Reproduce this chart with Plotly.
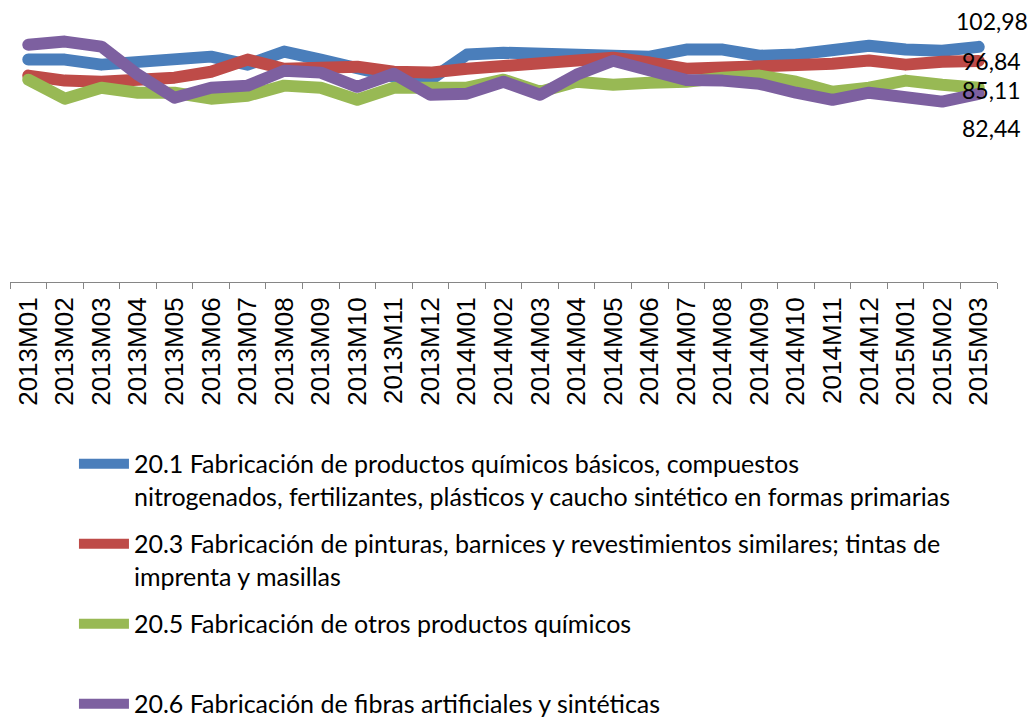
import plotly.graph_objects as go

months = ["2013M01", "2013M02", "2013M03", "2013M04", "2013M05", "2013M06", "2013M07",
          "2013M08", "2013M09", "2013M10", "2013M11", "2013M12", "2014M01", "2014M02",
          "2014M03", "2014M04", "2014M05", "2014M06", "2014M07", "2014M08", "2014M09",
          "2014M10", "2014M11", "2014M12", "2015M01", "2015M02", "2015M03"]

quimicos_basicos = [97.4, 97.4, 95.2, 96.5, 98.2, 98.7, 95.2, 100.9, 97.4, 93.0, 89.9, 88.6, 99.6, 100.4,
                    100.4, 100.0, 99.1, 98.7, 101.8, 101.8, 99.1, 99.6, 100.9, 103.5, 101.8, 101.3, 102.98]
pinturas = [90.4, 88.2, 87.7, 88.2, 89.5, 92.1, 97.4, 93.4, 94.3, 94.3, 92.1, 91.7, 93.4, 94.3,
            95.2, 96.5, 98.2, 96.1, 93.4, 93.9, 94.3, 94.7, 95.6, 97.0, 95.2, 96.5, 96.84]
otros = [88.6, 80.3, 85.1, 82.9, 82.9, 80.3, 81.6, 86.0, 85.1, 79.8, 85.1, 84.6, 85.1, 88.6,
         83.3, 87.7, 86.4, 87.3, 87.7, 89.5, 90.4, 87.7, 83.3, 85.1, 88.2, 86.4, 85.11]
fibras = [103.9, 105.3, 103.1, 90.8, 80.7, 85.1, 86.0, 92.5, 91.7, 85.5, 91.2, 82.0, 82.5, 87.7,
          82.0, 90.8, 96.9, 93.0, 88.5, 88.2, 86.8, 82.9, 79.8, 82.9, 81.1, 79.0, 82.44]

names = ["20.1 Fabricación de productos químicos básicos, compuestos<br>"
         "nitrogenados, fertilizantes, plásticos y caucho sintético en formas primarias",
         "20.3 Fabricación de pinturas, barnices y revestimientos similares; tintas de<br>"
         "imprenta y masillas",
         "20.5 Fabricación de otros productos químicos<br> ",
         "20.6 Fabricación de fibras artificiales y sintéticas"]
colors = ["#4A7EBB", "#BE4B48", "#98B954", "#7D60A0"]
series = [quimicos_basicos, pinturas, otros, fibras]
# offsets of the end labels (px) relative to the last point
label_shift = [26, 0, -2, -34]

fig = go.Figure()
for i in range(4):
    fig.add_trace(go.Scatter(x=months, y=series[i], mode="lines", name=names[i],
                             legendgroup=str(i),
                             line=dict(color=colors[i], width=12, shape="linear")))
    last = series[i][-1]
    fig.add_annotation(x=months[-1], y=last, text=f"{last:.2f}".replace(".", ","),
                       showarrow=False, xanchor="center", xshift=13, yshift=label_shift[i],
                       font=dict(family="Lato", size=23, color="#000000"))

fig.update_layout(
    width=1036, height=722,
    paper_bgcolor="white", plot_bgcolor="white",
    margin=dict(l=10, r=39, t=8, b=440, autoexpand=False),
    showlegend=True,
    legend=dict(xref="paper", yref="container", x=0.0648, y=0.3892,
                xanchor="left", yanchor="top", orientation="v",
                valign="top", traceorder="grouped", tracegroupgap=12, itemwidth=50,
                font=dict(family="Lato", size=25, color="#000000"),
                bgcolor="rgba(0,0,0,0)"),
)
fig.update_xaxes(type="category", range=[-0.5, 26.5], showline=True, linecolor="#868686", linewidth=1,
                 ticks="outside", tickson="boundaries", ticklen=6, tickcolor="#868686",
                 tickmode="array", tickvals=months, ticktext=months,
                 tickangle=-90, showgrid=False, zeroline=False, ticklabelstandoff=4,
                 tickfont=dict(family="Liberation Sans", size=26, color="#000000"))
fig.update_yaxes(range=[0, 120], visible=False, showgrid=False, zeroline=False)

# drop the default 8px body margin and round off the thick line ends like Excel does
js = """
document.body.style.margin = '0px';
document.querySelectorAll('.scatterlayer path.js-line').forEach(function (p) {
    p.style.strokeLinecap = 'round';
    p.style.strokeLinejoin = 'round';
});
"""
fig.write_html("out.html", config={"displayModeBar": False}, post_script=js)
